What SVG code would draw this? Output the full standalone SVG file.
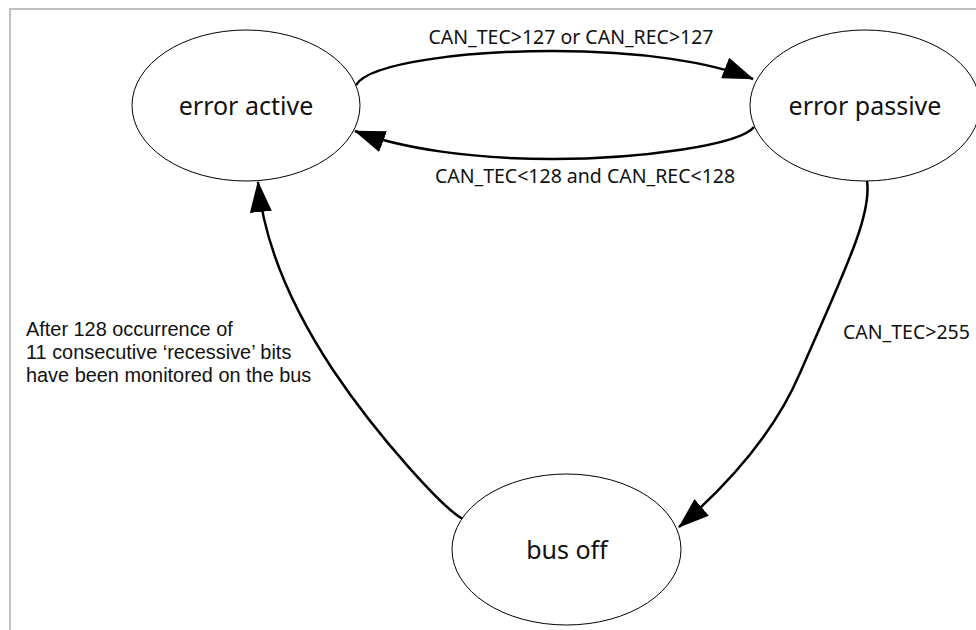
<svg xmlns="http://www.w3.org/2000/svg" width="976" height="630" viewBox="0 0 976 630">
  <style>
    .node ellipse { fill: #ffffff; stroke: #000000; stroke-width: 1; }
    .node text { font-family: "Noto Sans", "Liberation Sans", sans-serif; font-size: 25px; fill: #111111; text-anchor: middle; }
    .edge { fill: none; stroke: #000000; stroke-width: 2.5; marker-end: url(#arrow); }
    .label { font-family: "Noto Sans", "Liberation Sans", sans-serif; font-size: 19.5px; fill: #111111; }
    .note { font-family: "Liberation Sans", "Noto Sans", sans-serif; font-size: 19.9px; fill: #111111; }
  </style>
  <defs>
    <marker id="arrow" markerUnits="userSpaceOnUse" markerWidth="32" markerHeight="22" refX="30" refY="11" orient="auto" viewBox="0 0 32 22">
      <path d="M0,0 L31,11 L0,22 z" fill="#000000"/>
    </marker>
  </defs>
  <rect x="0" y="0" width="976" height="630" fill="#ffffff"/>
  <path d="M10,630 L10,9 L976,9" fill="none" stroke="#c0c0c0" stroke-width="2"/>

  <g id="connectors">
    <path class="edge" d="M356,85 C370,62 470,51 553,51 C640,51 710,62 753,79"/>
    <path class="edge" d="M754,127 C740,145 640,159 553,159 C470,159 400,148 355,131"/>
    <path class="edge" d="M867,181 C872,215 845,270 800,373 C780,420 745,470 679,527"/>
    <path class="edge" d="M463,519 C445,510 380,440 333,370 C300,320 265,255 258,182"/>
  </g>

  <g id="labels">
    <text class="label" x="571" y="44" text-anchor="middle">CAN_TEC&gt;127 or CAN_REC&gt;127</text>
    <text class="label" x="585" y="183" text-anchor="middle">CAN_TEC&lt;128 and CAN_REC&lt;128</text>
    <text class="label" x="843" y="339">CAN_TEC&gt;255</text>
    <text class="note" x="26" y="336">After 128 occurrence of</text>
    <text class="note" x="26" y="359">11 consecutive ‘recessive’ bits</text>
    <text class="note" x="26" y="382">have been monitored on the bus</text>
  </g>

  <g id="error-active" class="node">
    <ellipse cx="246" cy="105.5" rx="114" ry="75.5"/>
    <text x="246" y="115">error active</text>
  </g>
  <g id="error-passive" class="node">
    <ellipse cx="865" cy="105.5" rx="115" ry="75.5"/>
    <text x="865" y="115">error passive</text>
  </g>
  <g id="bus-off" class="node">
    <ellipse cx="566.5" cy="549.5" rx="114.5" ry="75.5"/>
    <text x="567" y="559">bus off</text>
  </g>
</svg>
